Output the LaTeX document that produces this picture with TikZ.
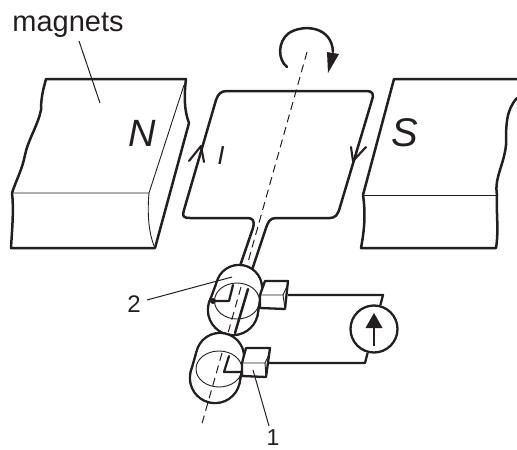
\documentclass[tikz,border=0pt]{standalone}
\usepackage{fontspec}
\setmainfont{Liberation Sans}
\usetikzlibrary{arrows.meta}
\definecolor{ink}{HTML}{231F20}
\tikzset{
  thickline/.style={draw=ink,line width=2.5pt,line join=round,line cap=round},
  wire/.style={draw=ink,line width=2.3pt,line join=round},
  thinline/.style={draw=ink,line width=0.9pt},
  axisline/.style={draw=ink,line width=1pt,dash pattern=on 8pt off 5pt},
  leader/.style={draw=ink,line width=1pt},
  lab/.style={text=ink,inner sep=0pt,anchor=center}
}
\begin{document}
\begin{tikzpicture}[x=1pt,y=-1pt]
\useasboundingbox (0,0) rectangle (517,450);
% N magnet
\draw[thickline] (46,79) -- (186,79) .. controls (184,95) and (184,110) .. (189,123) -- (155,248) -- (11,248)
  .. controls (12,230) and (14,210) .. (12,193)
  .. controls (17,178) and (22,170) .. (25,155)
  .. controls (28,140) and (38,125) .. (41,110)
  .. controls (41,98) and (43,90) .. (46,79) -- cycle;
\draw[thinline] (12,193) -- (149,193) -- (184,85);
\draw[thinline] (149,193) .. controls (147,215) and (149,235) .. (155,248);
% S magnet
\draw[thickline] (517,79) -- (394,79) -- (363,195) .. controls (366,215) and (364,232) .. (361,248) -- (496,248)
  .. controls (499,230) and (496,212) .. (497,195)
  .. controls (494,178) and (504,165) .. (506,145)
  .. controls (506,125) and (506,110) .. (517,98);
\draw[thinline] (363,195) -- (497,195);
% loop
\draw[thickline] (240,266) -- (253,228) .. controls (255,220) and (253,218) .. (246,218) -- (190,218)
  .. controls (183,218) and (182,216) .. (184,210) -- (216,100)
  .. controls (218,94) and (221,91) .. (227,91) -- (367,91)
  .. controls (373,91) and (374,95) .. (372,100) -- (340,207)
  .. controls (338,215) and (335,218) .. (330,218) -- (276,218)
  .. controls (270,218) and (268,222) .. (266,228) -- (252,270);
% current arrows
\draw[thickline,line width=2.1pt] (189,161) -- (201,146) -- (204,162);
\draw[thickline,line width=2.1pt] (351,147) -- (353,161) -- (366,147);
% axis and rotation
\draw[axisline] (307,52) -- (248,262);
\draw[thickline] (287,67) .. controls (278,60) and (277,42) .. (289,33) .. controls (303,24) and (332,26) .. (333,52);
\fill[ink] (328,73) -- (327,52) -- (339,54) -- cycle;
% upper ring
\draw[thickline] (239,288) circle (23);
\draw[thickline] (233,310) circle (25);
\draw[thickline] (261.2,294) -- (257.1,316.6);
\draw[thickline] (216.8,282) -- (208.9,303.4);
\fill[white] (239,288) circle (21.8);
\fill[white] (233,310) circle (23.8);
\fill[white] (260,293.7) -- (255.9,316.3) -- (210.1,303.7) -- (218,282.3) -- cycle;
\draw[thinline] (237,301) ellipse [x radius=22.5,y radius=18];
\draw[axisline] (241,287) -- (228,333);
\draw[thickline] (248,289) -- (235,333);
\draw[thickline,line width=2.2pt] (233,285) -- (229,301) -- (213,301);
\fill[ink] (213,301) circle (3);
% upper brush
\draw[wire,fill=white] (265,281) -- (288,281) -- (285,309) -- (260,308) -- (260,295) -- cycle;
\draw[thinline] (261,295) -- (283,295) -- (288,284);
\draw[thinline] (283,295) -- (285,309);
% lower ring
\draw[thickline] (220,357) circle (24);
\draw[thickline] (215,378) circle (25);
\draw[thickline] (243.4,362.6) -- (239.3,383.8);
\draw[thickline] (196.6,351.4) -- (190.7,372.2);
\fill[white] (220,357) circle (22.8);
\fill[white] (215,378) circle (23.8);
\fill[white] (242.2,362.3) -- (238.1,383.5) -- (191.9,372.5) -- (197.8,351.7) -- cycle;
\draw[thinline] (219,369) ellipse [x radius=23,y radius=18];
\draw[axisline] (222,353) -- (201,427);
\draw[thickline,line width=2.2pt] (229,356) -- (224,372) -- (241,372);
% lower brush
\draw[wire,fill=white] (246,348) -- (270,348) -- (266,377) -- (242,376) -- (242,363) -- cycle;
\draw[thinline] (242,363) -- (265,363) -- (270,352);
\draw[thinline] (265,363) -- (266,377);
% meter and circuit
\node[circle,draw=ink,line width=2.3pt,minimum size=47pt,inner sep=0pt] (meter) at (374,329) {};
\coordinate (wa) at (288,295);
\coordinate (wb) at (383,295);
\coordinate (wc) at (269,363);
\coordinate (wd) at (365,363);
\draw[wire] (wa) -- (wb) -- (meter.75);
\draw[wire] (wc) -- (wd) -- (meter.255);
\coordinate (mt) at (374,314);
\coordinate (mb) at (374,346);
\draw[draw=ink,line width=2.4pt] (mb) -- (mt);
\fill[ink] (374,313) -- (365.5,328) -- (382.5,328) -- cycle;
% labels
\node[lab,font=\fontsize{29}{30}\selectfont] (tmag) at (68,25) {magnets};
\coordinate (lm) at (100,103);
\draw[leader] (79,41) -- (lm);
\node[lab,font=\fontsize{38}{40}\selectfont\itshape] (tN) at (142,133) {N};
\node[lab,font=\fontsize{40}{42}\selectfont\itshape] (tS) at (405,133) {S};
\node[lab,font=\fontsize{26}{28}\selectfont\itshape] (tI) at (221,156) {I};
\node[lab,font=\fontsize{24}{26}\selectfont] (t2) at (134,304) {2};
\coordinate (l2) at (232,277);
\draw[leader] (147,300) -- (l2);
\node[lab,font=\fontsize{23}{25}\selectfont] (t1) at (273,438) {1};
\coordinate (l1) at (253,370);
\draw[leader] (269,426) -- (l1);
\end{tikzpicture}
\end{document}
